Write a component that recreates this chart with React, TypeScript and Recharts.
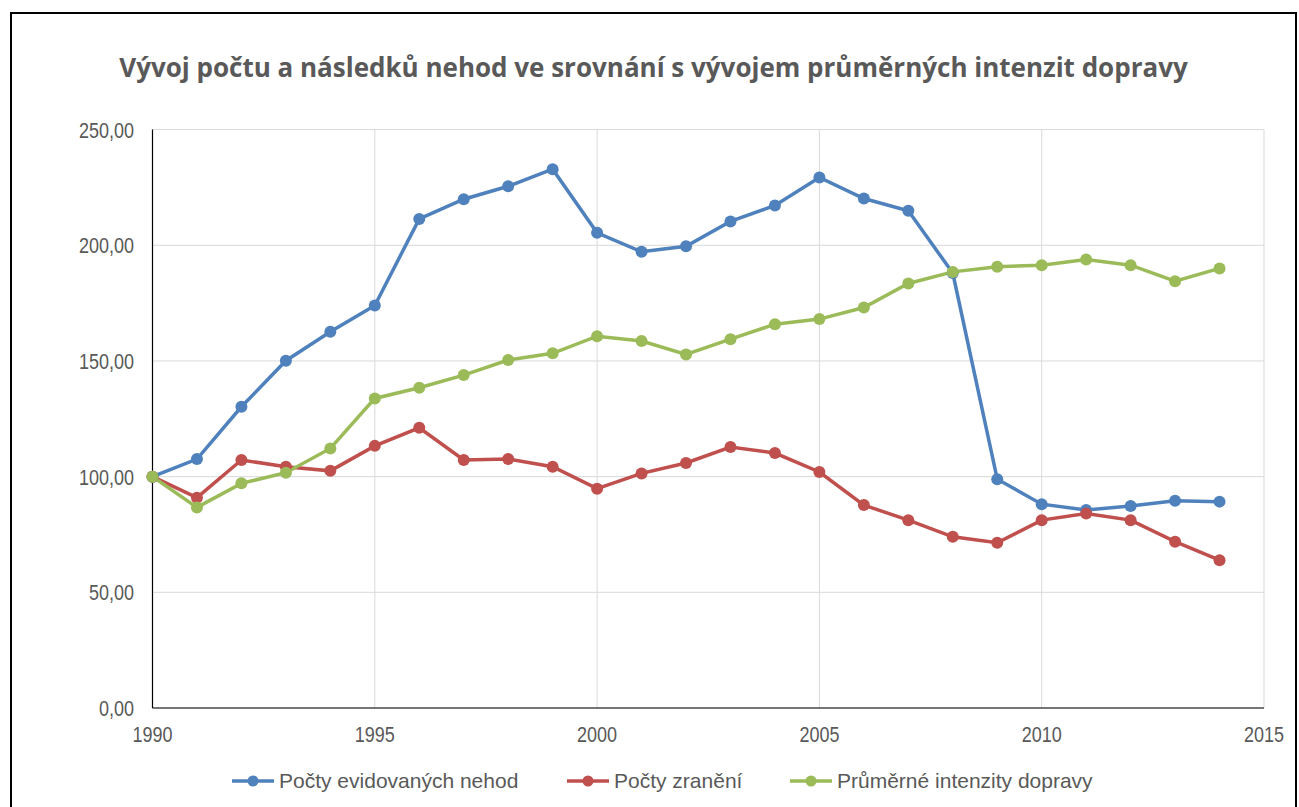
import React from 'react';
import { LineChart, Line, XAxis, YAxis, CartesianGrid, Legend } from 'recharts';

const years = [1990, 1991, 1992, 1993, 1994, 1995, 1996, 1997, 1998, 1999, 2000, 2001, 2002, 2003, 2004, 2005, 2006, 2007, 2008, 2009, 2010, 2011, 2012, 2013, 2014];
const nehody = [100, 107.6, 130.2, 150.1, 162.6, 174.0, 211.4, 219.9, 225.5, 232.9, 205.4, 197.2, 199.6, 210.3, 217.2, 229.3, 220.2, 214.9, 188.0, 98.9, 88.1, 85.6, 87.3, 89.6, 89.2];
const zraneni = [100, 90.9, 107.2, 104.3, 102.5, 113.3, 121.1, 107.2, 107.6, 104.3, 94.8, 101.4, 105.9, 112.8, 110.2, 102.0, 87.7, 81.2, 74.0, 71.4, 81.2, 84.1, 81.2, 71.9, 63.9];
const intenzity = [100, 86.7, 97.1, 101.7, 112.2, 133.8, 138.4, 143.9, 150.4, 153.3, 160.7, 158.6, 152.8, 159.4, 165.9, 168.1, 173.1, 183.5, 188.5, 190.7, 191.4, 193.9, 191.4, 184.5, 190.0];

const seriesNames = ['Počty evidovaných nehod', 'Počty zranění', 'Průměrné intenzity dopravy'];
const seriesColors = ['#4F81BD', '#C0504D', '#9BBB59'];
const xTicks = [1990, 1995, 2000, 2005, 2010, 2015];
const yTicks = [0, 50, 100, 150, 200, 250];
const title = 'Vývoj počtu a následků nehod ve srovnání s vývojem průměrných intenzit dopravy';

const data = years.map((y, i) => ({ year: y, a: nehody[i], b: zraneni[i], c: intenzity[i] }));
const keys = ['a', 'b', 'c'];

const sans = "'Liberation Sans', Arial, sans-serif";
const legendX = [232, 567, 790];

const fmtY = (v: number) => v.toFixed(2).replace('.', ',');

const NarrowTick = (props: any) => {
  const { x, y, payload, textAnchor, fmt, dy } = props;
  const label = fmt ? fmt(payload.value) : String(payload.value);
  return (
    <g transform={`translate(${x},${y}) scale(0.8,1)`}>
      <text x={0} y={0} dy={dy} textAnchor={textAnchor} fill="#595959" fontSize={22.5} fontFamily={sans}>
        {label}
      </text>
    </g>
  );
};

const LegendContent = () => (
  <svg width={1299} height={30} style={{ display: 'block' }}>
    {seriesNames.map((n, i) => (
      <g key={n} transform={`translate(${legendX[i]},15)`}>
        <line x1={0} y1={0} x2={42} y2={0} stroke={seriesColors[i]} strokeWidth={3.5} />
        <circle cx={21} cy={0} r={5.5} fill={seriesColors[i]} />
        <text x={47} y={0} dy="0.35em" fill="#595959" fontSize={21} fontFamily={sans}>{n}</text>
      </g>
    ))}
  </svg>
);

export default function App() {
  return (
    <div style={{ position: 'absolute', left: 0, top: 0, width: 1299, height: 807, background: '#fff', overflow: 'hidden' }}>
      <div style={{ position: 'absolute', left: 10, top: 12, width: 1287, height: 820, border: '2px solid #000', boxSizing: 'border-box' }} />
      <div style={{ position: 'absolute', left: 0, top: 49, width: 1299, textAlign: 'center', fontFamily: "'Open Sans', sans-serif", fontWeight: 700, fontSize: 26, color: '#595959', paddingLeft: 4, whiteSpace: 'nowrap' }}>
        {title}
      </div>
      <div style={{ position: 'absolute', left: 0, top: 0 }}>
        <LineChart width={1299} height={807} data={data} margin={{ top: 129.6, right: 35, bottom: 29, left: 0 }}>
          <CartesianGrid stroke="#D9D9D9" strokeWidth={1} verticalValues={xTicks} horizontalValues={yTicks} />
          <XAxis
            dataKey="year"
            type="number"
            domain={[1990, 2015]}
            ticks={xTicks}
            xAxisId={0}
            height={40}
            tickLine={false}
            axisLine={{ stroke: '#000', strokeWidth: 1.2 }}
            tick={<NarrowTick dy="0.71em" />}
            tickMargin={12}
          />
          <XAxis xAxisId="top" orientation="top" dataKey="year" type="number" domain={[1990, 2015]} ticks={xTicks} tick={false} tickLine={false} height={0} axisLine={{ stroke: '#000', strokeWidth: 1.2 }} />
          <YAxis
            yAxisId={0}
            type="number"
            domain={[0, 250]}
            ticks={yTicks}
            width={152.5}
            tickLine={false}
            axisLine={{ stroke: '#000', strokeWidth: 1.2 }}
            tick={<NarrowTick dy="0.355em" fmt={fmtY} />}
            tickMargin={12.5}
          />
          <YAxis yAxisId="right" orientation="right" domain={[0, 250]} ticks={yTicks} tick={false} tickLine={false} width={0} axisLine={{ stroke: '#000', strokeWidth: 1.2 }} />
          <Legend
            height={30}
            verticalAlign="bottom"
            content={<LegendContent />}
            wrapperStyle={{ top: 766, left: 0, bottom: 'auto', width: 1299 }}
          />
          {keys.map((k, i) => (
            <Line
              key={k}
              dataKey={k}
              name={seriesNames[i]}
              stroke={seriesColors[i]}
              strokeWidth={3.5}
              dot={{ r: 6, fill: seriesColors[i], stroke: seriesColors[i], strokeWidth: 0 }}
              activeDot={false}
              isAnimationActive={false}
              xAxisId={0}
              yAxisId={0}
            />
          ))}
        </LineChart>
      </div>
    </div>
  );
}
